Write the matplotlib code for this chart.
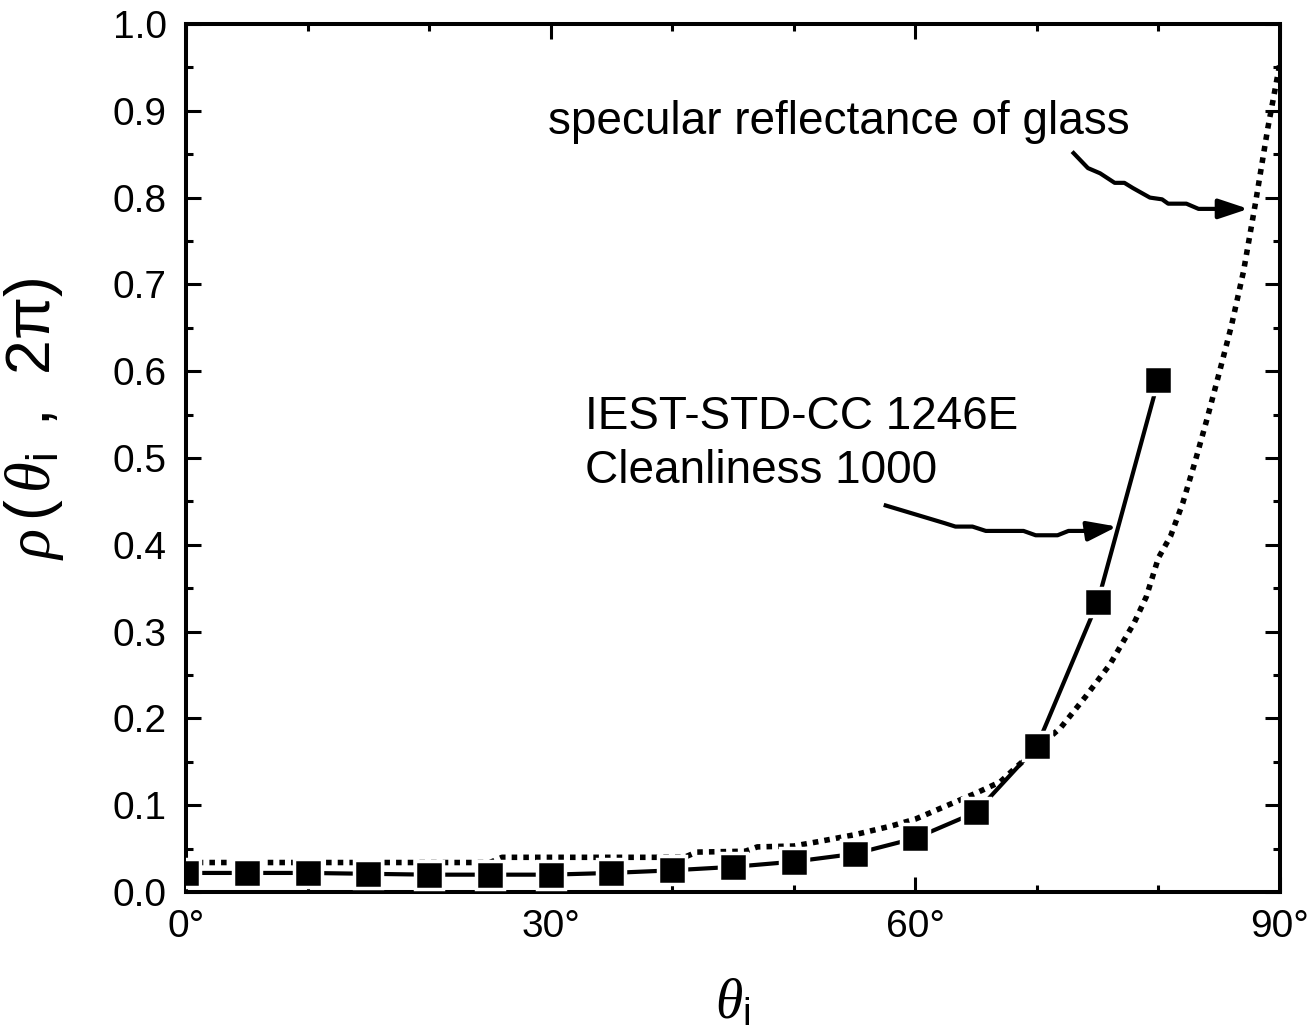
import matplotlib
matplotlib.use('Agg')
import matplotlib.pyplot as plt
from matplotlib.ticker import MultipleLocator, FuncFormatter

plt.rcParams['font.family'] = ['Liberation Sans', 'DejaVu Sans']
plt.rcParams['mathtext.fontset'] = 'custom'
plt.rcParams['mathtext.rm'] = 'Liberation Sans'
plt.rcParams['mathtext.it'] = 'Liberation Serif:italic'

# measured data (IEST-STD-CC 1246E, cleanliness 1000)
theta_meas = [0, 5, 10, 15, 20, 25, 30, 35, 40, 45, 50, 55, 60, 65, 70, 75, 80]
rho_meas = [0.022, 0.022, 0.022, 0.021, 0.020, 0.020, 0.020, 0.022, 0.025,
            0.029, 0.035, 0.044, 0.062, 0.092, 0.168, 0.334, 0.590]

# specular reflectance of glass (dotted)
theta_glass = [0, 25, 26, 41, 42, 46, 47, 50, 52, 55, 58, 60, 62, 65, 67, 68, 70,
               72, 74, 76, 78, 79, 80, 81, 82, 83, 84, 85, 86, 87, 88, 89, 90]
rho_glass = [0.034, 0.034, 0.040, 0.040, 0.046, 0.047, 0.052, 0.053, 0.058, 0.066,
             0.076, 0.084, 0.096, 0.114, 0.127, 0.140, 0.165, 0.190, 0.225, 0.262,
             0.310, 0.340, 0.385, 0.410, 0.448, 0.495, 0.545, 0.598, 0.652, 0.715,
             0.795, 0.880, 0.955]

fig = plt.figure(figsize=(13.14, 10.34), dpi=100)
ax = fig.add_axes([0.1416, 0.1373, 0.8325, 0.8395])

ax.plot(theta_glass, rho_glass, color='black', lw=4, linestyle=(0, (1, 1.1)),
        dash_capstyle='butt', zorder=2)
ax.plot(theta_meas, rho_meas, color='black', lw=3, zorder=3)
ax.plot(theta_meas, rho_meas, linestyle='none', marker='s', ms=20,
        markerfacecolor='black', markeredgecolor='white', mew=2.5, zorder=4)

ax.set_xlim(0, 90)
ax.set_ylim(0, 1.0)
ax.xaxis.set_major_locator(MultipleLocator(30))
ax.xaxis.set_minor_locator(MultipleLocator(10))
ax.yaxis.set_major_locator(MultipleLocator(0.1))
ax.yaxis.set_minor_locator(MultipleLocator(0.05))
ax.xaxis.set_major_formatter(FuncFormatter(lambda v, p: '%d\u00b0' % round(v)))
ax.yaxis.set_major_formatter(FuncFormatter(lambda v, p: '%.1f' % v))

ax.tick_params(which='both', direction='in', top=True, right=True, width=2.2,
               labelsize=28)
ax.tick_params(which='major', length=11)
ax.tick_params(which='minor', length=5)
ax.tick_params(axis='x', pad=12)
ax.tick_params(axis='y', pad=14)
for s in ax.spines.values():
    s.set_linewidth(2.9)

ax.set_xlabel(r'$\theta_{\mathrm{i}}$', fontsize=40, labelpad=24)
ax.set_ylabel(r'$\rho\,(\,\theta_{\mathrm{i}}\;\;,\;\;\mathrm{2\pi})$', fontsize=45)
ax.yaxis.set_label_coords(-0.11, 0.545)

# annotations
ax.text(29.8, 0.887, 'specular reflectance of glass', fontsize=33, va='center')
ax.text(32.8, 0.547, 'IEST-STD-CC 1246E', fontsize=33, va='center')
ax.text(32.8, 0.485, 'Cleanliness 1000', fontsize=33, va='center')

glass_x = [72.9, 74.2, 75.2, 76.4, 77.2, 77.9, 79.3, 80.3, 80.8, 82.3, 83.3, 85.3]
glass_y = [0.853, 0.834, 0.828, 0.817, 0.817, 0.811, 0.800, 0.798, 0.793, 0.793,
           0.787, 0.787]
ax.plot(glass_x, glass_y, color='black', lw=3, solid_capstyle='butt')
ax.annotate('', xy=(87.4, 0.787), xytext=(glass_x[-1], glass_y[-1]),
            arrowprops=dict(arrowstyle='-|>,head_length=0.9,head_width=0.3',
                            mutation_scale=20, lw=3, color='black',
                            shrinkA=0, shrinkB=0))

iest_x = [57.4, 62.4, 63.3, 64.7, 65.8, 68.9, 69.9, 71.7, 72.6, 74.2]
iest_y = [0.446, 0.425, 0.421, 0.421, 0.416, 0.416, 0.411, 0.411, 0.416, 0.416]
ax.plot(iest_x, iest_y, color='black', lw=3, solid_capstyle='butt')
ax.annotate('', xy=(76.6, 0.421), xytext=(iest_x[-1], iest_y[-1]),
            arrowprops=dict(arrowstyle='-|>,head_length=0.9,head_width=0.3',
                            mutation_scale=20, lw=3, color='black',
                            shrinkA=0, shrinkB=0))

fig.savefig('out.png', dpi=100)
